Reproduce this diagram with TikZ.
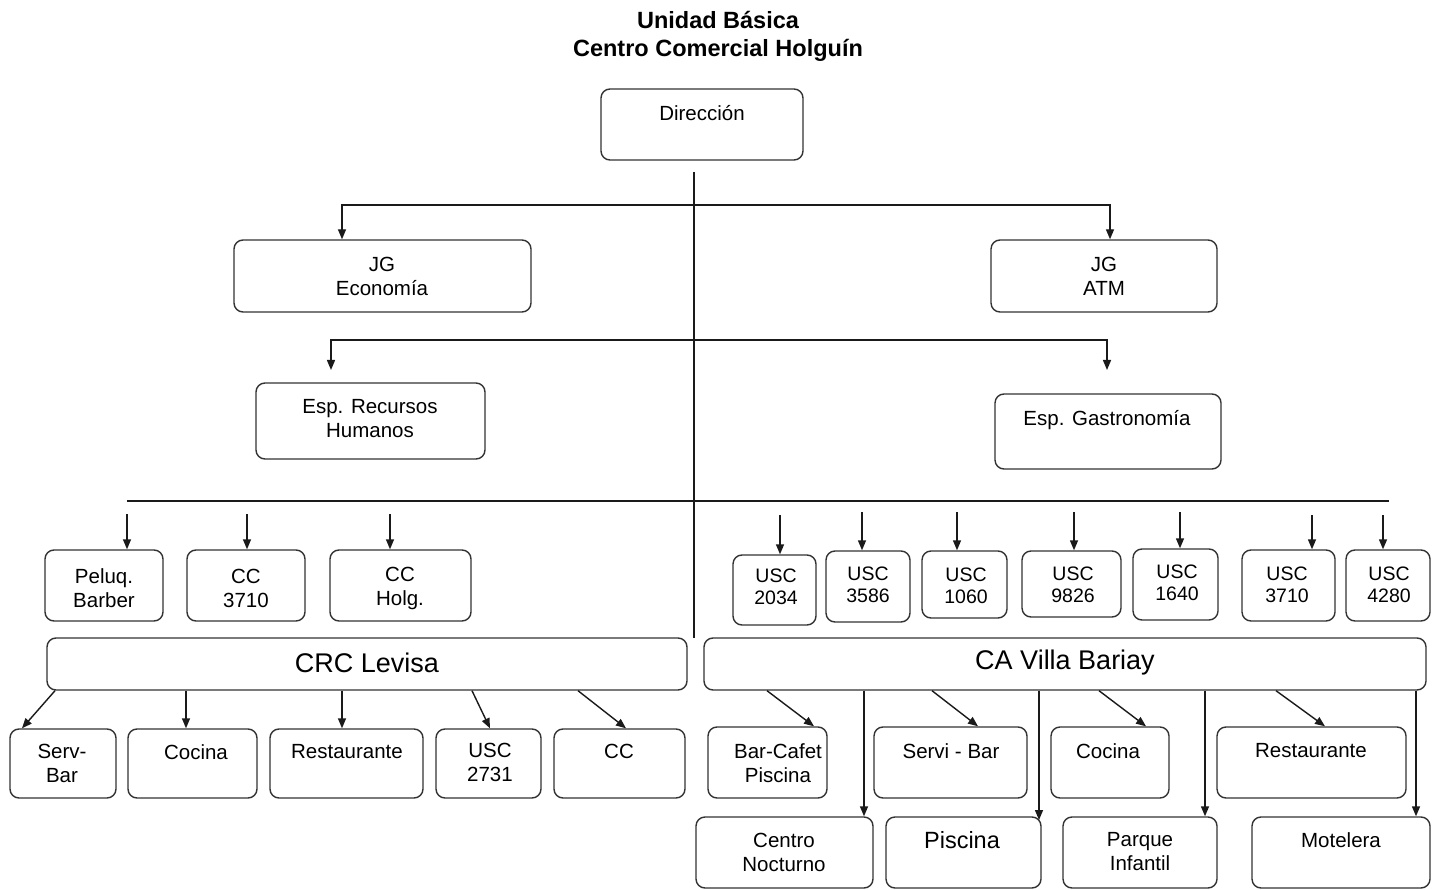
\documentclass[tikz,border=0pt]{standalone}
\usepackage{fontspec}
\setmainfont{Liberation Sans}
\usetikzlibrary{arrows.meta,fit}

\definecolor{edge}{HTML}{333333}
\definecolor{wire}{HTML}{1A1A1A}

% rounded box spanning two corner points: name, x1, y1, x2, y2
\newcommand\orgbox[5]{%
  \path (#2,#3) coordinate (#1-nw) (#4,#5) coordinate (#1-se);
  \node[box, fit=(#1-nw)(#1-se)] (#1) {};}

\tikzset{
  box/.style={draw=edge, line width=1.4pt, rounded corners=9pt, inner sep=0pt},
  lbl/.style={align=center, inner sep=0pt, text=black, font=\fontsize{20.5}{24}\selectfont},
  small/.style={lbl, font=\fontsize{19.5}{22}\selectfont},
  big/.style={lbl, font=\fontsize{27}{30}\selectfont},
  ttl/.style={align=center, inner sep=0pt, font=\bfseries\fontsize{23.5}{28}\selectfont},
  ln/.style={draw=wire, line width=1.4pt},
  arr/.style={ln, -{Triangle[length=10pt,width=8pt]}},
}

\begin{document}
\begin{tikzpicture}[x=1pt,y=-1pt]
\fill[white] (0,0) rectangle (1437,890);
\useasboundingbox (0,0) rectangle (1437,890);

% heading
\node[ttl] (title) at (718,36) {Unidad Básica\\Centro Comercial Holguín};

% management levels
\orgbox{dir}{601}{89}{803}{160}
\node[lbl] (dir-t) at (702,113) {Dirección};
\orgbox{eco}{234}{240}{531}{312}
\node[lbl] (eco-t) at (382,276) {JG\\Economía};
\orgbox{atm}{991}{240}{1217}{312}
\node[lbl] (atm-t) at (1104,276) {JG\\ATM};
\orgbox{rrhh}{256}{383}{485}{459}
\node[lbl] (rrhh-t) at (370,419) {Esp. Recursos\\Humanos};
\orgbox{gas}{995}{394}{1221}{469}
\node[lbl] (gas-t) at (1107,420) {Esp. Gastronomía};

% units under the main bar, left
\orgbox{pel}{45}{550}{163}{621}
\node[lbl] (pel-t) at (104,588) {Peluq.\\Barber};
\orgbox{cca}{187}{550}{305}{621}
\node[lbl] (cca-t) at (246,588) {CC\\3710};
\orgbox{cch}{330}{550}{471}{621}
\node[lbl] (cch-t) at (400,588) {CC\\Holg.};

% units under the main bar, right
\orgbox{ua}{733}{555}{816}{625}
\node[small] (ua-t) at (776,587) {USC\\2034};
\orgbox{ub}{826}{551}{910}{622}
\node[small] (ub-t) at (868,585) {USC\\3586};
\orgbox{uc}{922}{551}{1007}{618}
\node[small] (uc-t) at (966,586) {USC\\1060};
\orgbox{ud}{1022}{551}{1121}{617}
\node[small] (ud-t) at (1073,585) {USC\\9826};
\orgbox{ue}{1133}{549}{1218}{620}
\node[small] (ue-t) at (1177,583) {USC\\1640};
\orgbox{uf}{1242}{550}{1335}{621}
\node[small] (uf-t) at (1287,585) {USC\\3710};
\orgbox{ug}{1346}{550}{1430}{621}
\node[small] (ug-t) at (1389,585) {USC\\4280};

% the two centres
\orgbox{crc}{47}{638}{687}{690}
\node[big] (crc-t) at (367,663) {CRC Levisa};
\orgbox{cav}{704}{638}{1426}{690}
\node[big] (cav-t) at (1065,663) {CA Villa Bariay};

% CRC Levisa units
\orgbox{sb}{10}{729}{116}{798}
\node[lbl] (sb-t) at (62,763) {Serv-\\Bar};
\orgbox{coa}{128}{729}{257}{798}
\node[lbl] (coa-t) at (196,752) {Cocina};
\orgbox{rea}{270}{729}{423}{798}
\node[lbl] (rea-t) at (347,752) {Restaurante};
\orgbox{uh}{436}{729}{541}{798}
\node[lbl] (uh-t) at (490,762) {USC\\2731};
\orgbox{ccb}{554}{729}{685}{798}
\node[lbl] (ccb-t) at (619,751) {CC};

% CA Villa Bariay units, first row
\orgbox{bcp}{708}{727}{827}{798}
\node[lbl] (bcp-t) at (778,763) {Bar-Cafet\\Piscina};
\orgbox{sv}{874}{727}{1027}{798}
\node[lbl] (sv-t) at (951,751) {Servi - Bar};
\orgbox{cob}{1051}{727}{1169}{798}
\node[lbl] (cob-t) at (1108,751) {Cocina};
\orgbox{reb}{1217}{727}{1406}{798}
\node[lbl] (reb-t) at (1311,751) {Restaurante};

% CA Villa Bariay units, second row
\orgbox{cn}{696}{817}{873}{888}
\node[lbl] (cn-t) at (784,852) {Centro\\Nocturno};
\orgbox{pis}{886}{817}{1041}{888}
\node[lbl, font=\fontsize{23.5}{26}\selectfont] (pis-t) at (962,840) {Piscina};
\orgbox{pq}{1063}{817}{1217}{888}
\node[lbl] (pq-t) at (1140,852) {Parque\\Infantil};
\orgbox{mot}{1252}{817}{1430}{888}
\node[lbl] (mot-t) at (1341,840) {Motelera};

% central trunk and branches
\coordinate (trunk-top) at (694,172);
\coordinate (trunk-bot) at (694,638);
\draw[ln] (trunk-top) -- (trunk-bot);

\coordinate (j1) at (694,205);
\draw[arr] (j1) -| (342,0 |- eco.north);
\draw[arr] (j1) -| (1110,0 |- atm.north);

\coordinate (j2) at (694,340);
\coordinate (rrhh-tip) at (331,370);
\coordinate (gas-tip) at (1107,370);
\draw[arr] (j2) -| (rrhh-tip);
\draw[arr] (j2) -| (gas-tip);

\coordinate (bar-l) at (127,501);
\coordinate (bar-r) at (1389,501);
\draw[ln] (bar-l) -- (bar-r);

% drop arrows to the units
\foreach \x/\y/\t in {127/514/pel, 247/514/cca, 390/514/cch,
                      780/515/ua, 862/512/ub, 957/512/uc, 1074/512/ud,
                      1180/512/ue, 1312/515/uf, 1383/515/ug}{
  \coordinate (d-\t) at (\x,\y);
  \draw[arr] (d-\t) -- (\x,0 |- \t.north);
}

% CRC Levisa to its units
\draw[arr] (55,0 |- crc.south) -- (22,0 |- sb.north);
\draw[arr] (186,0 |- crc.south) -- (186,0 |- coa.north);
\draw[arr] (342,0 |- crc.south) -- (342,0 |- rea.north);
\draw[arr] (472,0 |- crc.south) -- (490,0 |- uh.north);
\draw[arr] (578,0 |- crc.south) -- (626,0 |- ccb.north);

% CA Villa Bariay to its units
\draw[arr] (767,0 |- cav.south) -- (814,0 |- bcp.north);
\draw[arr] (932,0 |- cav.south) -- (978,0 |- sv.north);
\draw[arr] (1099,0 |- cav.south) -- (1146,0 |- cob.north);
\draw[arr] (1276,0 |- cav.south) -- (1325,0 |- reb.north);
\draw[arr] (864,0 |- cav.south) -- (864,0 |- cn.north);
\draw[arr] (1039,0 |- cav.south) -- (1039,820);
\draw[arr] (1205,0 |- cav.south) -- (1205,0 |- pq.north);
\draw[arr] (1416,0 |- cav.south) -- (1416,0 |- mot.north);
\end{tikzpicture}
\end{document}
